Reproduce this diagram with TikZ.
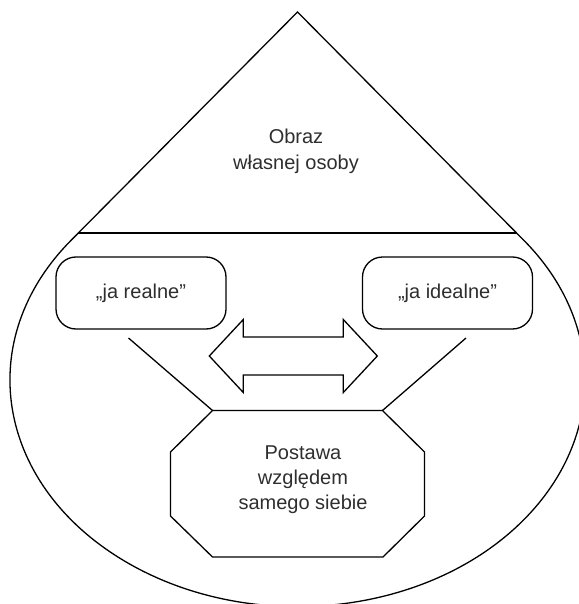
\documentclass[tikz,border=0pt]{standalone}
\usepackage{fontspec}
\setmainfont{Liberation Sans}
\usetikzlibrary{calc}
\begin{document}
\begin{tikzpicture}[x=1pt,y=-1pt,
  outline/.style={draw=black, line width=1.3pt, line join=miter},
  labeltext/.style={font=\fontsize{20}{26}\selectfont, text=black!82, align=center, inner sep=0pt},
  roundbox/.style={outline, rounded corners=20pt, minimum width=170pt, minimum height=72pt,
    font=\fontsize{20}{26}\selectfont, text=black!82, inner sep=0pt}]
\useasboundingbox (0,0) rectangle (578,604);

% teardrop outline: triangle tangent to an elliptic bottom
\coordinate (apex) at (297.5,12);
\coordinate (tl) at (70.9,240.5);
\coordinate (tr) at (524.1,240.5);
\draw[outline] (apex) -- (tl)
  arc[start angle=142, end angle=398, x radius=287.5pt, y radius=226.6pt] -- cycle;
\coordinate (baseL) at ($(apex)!0.9672!(tl)$);
\coordinate (baseR) at ($(apex)!0.9672!(tr)$);
\draw[outline] (baseL) -- (baseR);

\node[labeltext] (obraz) at (296,151.5) {Obraz\\własnej osoby};

% the two self images
\node[roundbox] (real) at (141,293) {„ja realne”};
\node[roundbox] (ideal) at (447.5,293) {„ja idealne”};

% double arrow between them
\coordinate (la) at (209.3,356);
\coordinate (ra) at (377.3,356);
\draw[outline] (la) -- (243.3,319.5) -- (243.3,337) -- (343.3,337) -- (343.3,319.5)
  -- (ra) -- (343.3,392.5) -- (343.3,375) -- (243.3,375) -- (243.3,392.5) -- cycle;

% octagon for the attitude
\coordinate (o1) at (212.5,410.5);
\coordinate (o2) at (382.5,410.5);
\coordinate (o3) at (424.5,452);
\coordinate (o4) at (424.5,516);
\coordinate (o5) at (383,557);
\coordinate (o6) at (212.5,557);
\coordinate (o7) at (170.5,516);
\coordinate (o8) at (170.5,452);
\draw[outline] (o1) -- (o2) -- (o3) -- (o4) -- (o5) -- (o6) -- (o7) -- (o8) -- cycle;
\node[labeltext, font=\fontsize{20}{25}\selectfont] (postawa) at (303,480) {Postawa\\względem\\samego siebie};

% links from the self images to the octagon
\coordinate (lstart) at (128.5,338);
\coordinate (rstart) at (466,338);
\draw[outline] (lstart) -- (o1);
\draw[outline] (rstart) -- (o2);
\end{tikzpicture}
\end{document}
